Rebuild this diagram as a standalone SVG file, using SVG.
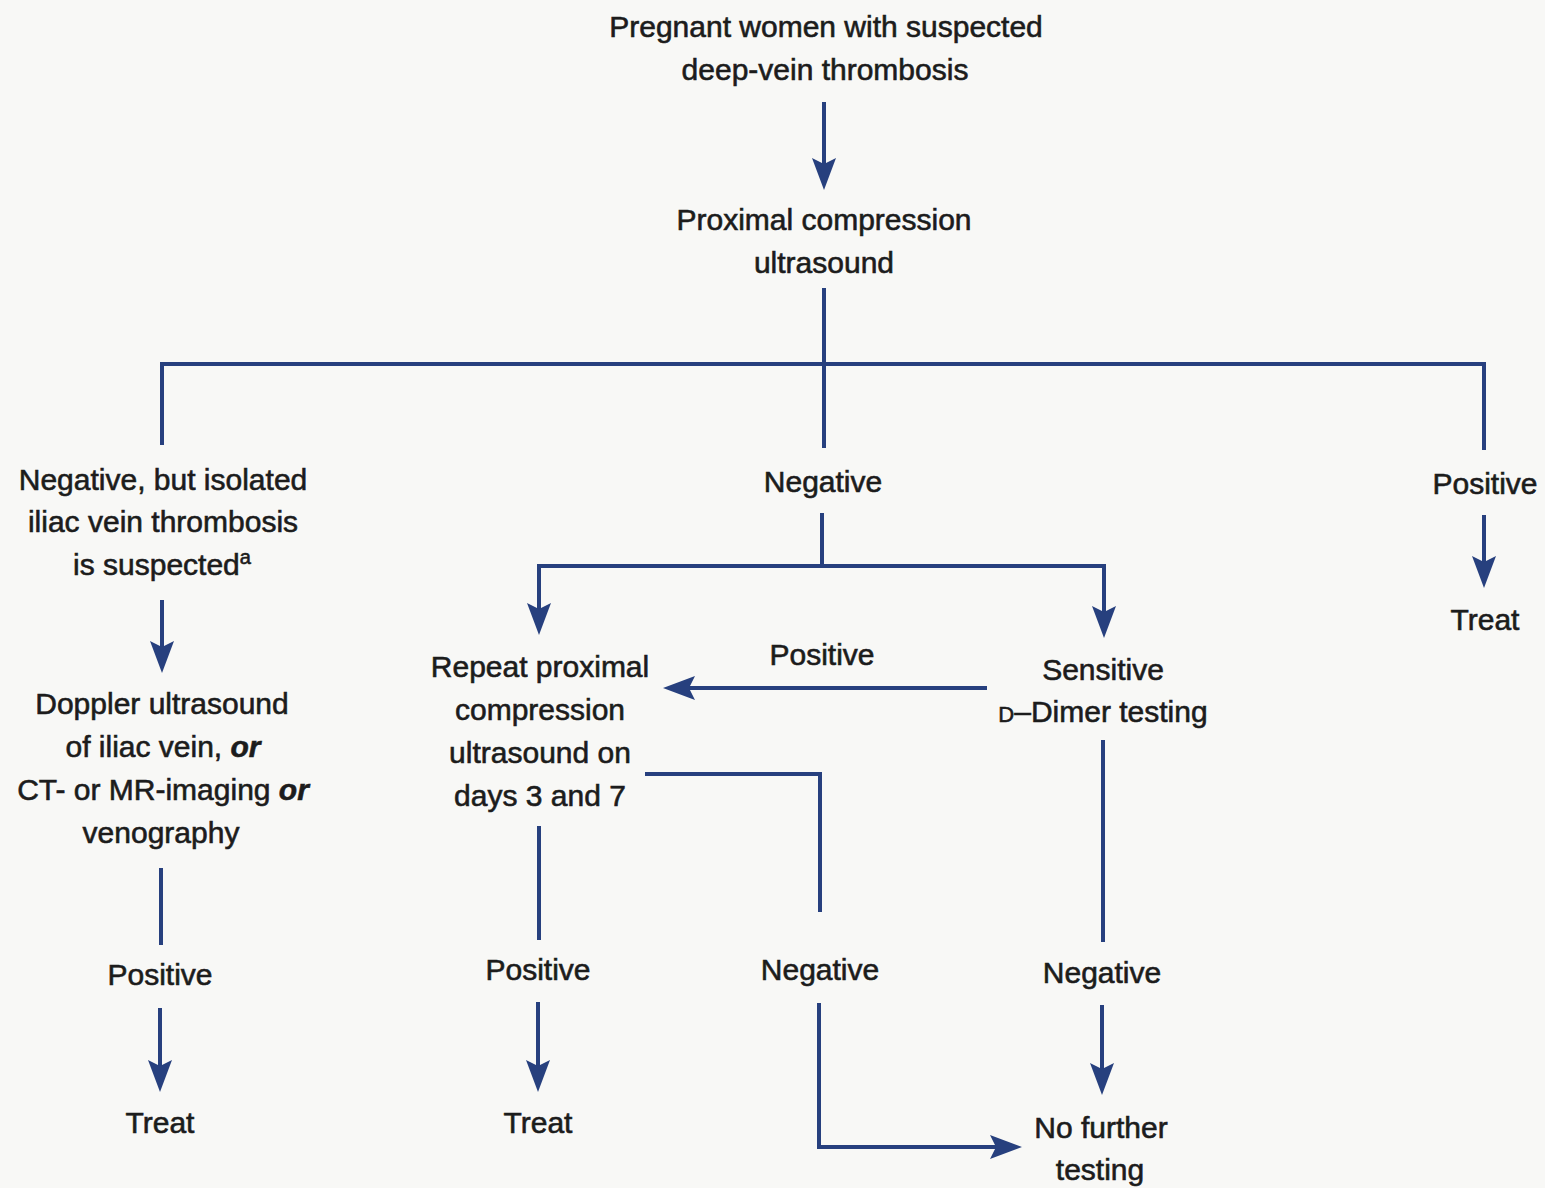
<svg xmlns="http://www.w3.org/2000/svg" width="1545" height="1188" viewBox="0 0 1545 1188">
<style>
  .t { font-family: "Liberation Sans", Arial, sans-serif; font-size: 30px; fill: #1c1c1c; stroke: #1c1c1c; stroke-width: 0.6px; text-anchor: middle; }
  .bi { font-weight: bold; font-style: italic; }
  .sc { font-size: 22px; }
  .sup { font-size: 20px; }
  .ln { stroke: #27407e; stroke-width: 4; fill: none; }
</style>
<defs>
  <marker id="ah" markerUnits="userSpaceOnUse" viewBox="0 0 32 24" refX="22" refY="12" markerWidth="32" markerHeight="24" orient="auto">
    <path d="M0,0 L32,12 L0,24 L6,12 Z" fill="#27407e"/>
  </marker>
</defs>
<rect width="1545" height="1188" fill="#f8f8f6"/>

<g id="connectors">
  <line class="ln" x1="824" y1="102" x2="824" y2="180" marker-end="url(#ah)"/>
  <polyline class="ln" points="824,288 824,448"/>
  <polyline class="ln" points="162,445 162,364 1484,364 1484,450"/>
  <line class="ln" x1="1484" y1="515" x2="1484" y2="578" marker-end="url(#ah)"/>
  <line class="ln" x1="162" y1="600" x2="162" y2="663" marker-end="url(#ah)"/>
  <line class="ln" x1="161" y1="868" x2="161" y2="945"/>
  <line class="ln" x1="160" y1="1008" x2="160" y2="1082" marker-end="url(#ah)"/>
  <line class="ln" x1="822" y1="513" x2="822" y2="567"/>
  <polyline class="ln" points="539,624 539,566 1104,566 1104,628" marker-end="url(#ah)"/>
  <line class="ln" x1="539" y1="566" x2="539" y2="625" marker-end="url(#ah)"/>
  <line class="ln" x1="987" y1="688" x2="673" y2="688" marker-end="url(#ah)"/>
  <polyline class="ln" points="645,774 820,774 820,912"/>
  <polyline class="ln" points="819,1003 819,1147 1012,1147" marker-end="url(#ah)"/>
  <line class="ln" x1="1103" y1="740" x2="1103" y2="942"/>
  <line class="ln" x1="1102" y1="1005" x2="1102" y2="1085" marker-end="url(#ah)"/>
  <line class="ln" x1="539" y1="826" x2="539" y2="940"/>
  <line class="ln" x1="538" y1="1002" x2="538" y2="1082" marker-end="url(#ah)"/>
</g>

<g id="n_start">
  <text class="t" x="826" y="37">Pregnant women with suspected</text>
  <text class="t" x="825" y="80">deep-vein thrombosis</text>
</g>
<g id="n_pcu">
  <text class="t" x="824" y="230">Proximal compression</text>
  <text class="t" x="824" y="273">ultrasound</text>
</g>
<g id="n_neg_iliac">
  <text class="t" x="163" y="490">Negative, but isolated</text>
  <text class="t" x="163" y="532">iliac vein thrombosis</text>
  <text class="t" x="162" y="575">is suspected<tspan class="sup" dy="-11">a</tspan></text>
</g>
<g id="n_doppler">
  <text class="t" x="162" y="714">Doppler ultrasound</text>
  <text class="t" x="163" y="757">of iliac vein, <tspan class="bi">or</tspan></text>
  <text class="t" x="163" y="800">CT- or MR-imaging <tspan class="bi">or</tspan></text>
  <text class="t" x="161" y="843">venography</text>
</g>
<g id="n_pos_left">
  <text class="t" x="160" y="985">Positive</text>
</g>
<g id="n_treat_left">
  <text class="t" x="160" y="1133">Treat</text>
</g>
<g id="n_negative">
  <text class="t" x="823" y="492">Negative</text>
</g>
<g id="n_pos_right">
  <text class="t" x="1485" y="494">Positive</text>
</g>
<g id="n_treat_right">
  <text class="t" x="1485" y="630">Treat</text>
</g>
<g id="n_repeat">
  <text class="t" x="540" y="677">Repeat proximal</text>
  <text class="t" x="540" y="720">compression</text>
  <text class="t" x="540" y="763">ultrasound on</text>
  <text class="t" x="540" y="806">days 3 and 7</text>
</g>
<g id="n_pos_mid">
  <text class="t" x="822" y="665">Positive</text>
</g>
<g id="n_ddimer">
  <text class="t" x="1103" y="680">Sensitive</text>
  <text class="t" x="1103" y="722"><tspan class="sc">D</tspan>–Dimer testing</text>
</g>
<g id="n_neg_repeat">
  <text class="t" x="820" y="980">Negative</text>
</g>
<g id="n_pos_repeat">
  <text class="t" x="538" y="980">Positive</text>
</g>
<g id="n_treat_mid">
  <text class="t" x="538" y="1133">Treat</text>
</g>
<g id="n_neg_ddimer">
  <text class="t" x="1102" y="983">Negative</text>
</g>
<g id="n_nofurther">
  <text class="t" x="1101" y="1138">No further</text>
  <text class="t" x="1100" y="1180">testing</text>
</g>
</svg>
